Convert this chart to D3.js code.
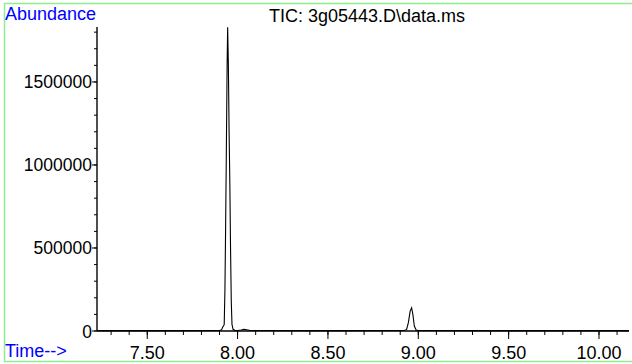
<!DOCTYPE html>
<html><head><meta charset="utf-8">
<script src="https://cdn.jsdelivr.net/npm/d3@7"></script>
<style>
html,body{margin:0;padding:0;background:#fff;}
svg{display:block;font-family:"Liberation Sans",Arial,sans-serif;}
</style></head>
<body>
<svg id="c" width="632" height="364"></svg>
<script>
// Data (time in minutes, abundance)
const times = [7.222, 7.60, 7.90, 7.912, 7.918, 7.922, 7.926, 7.930, 7.934, 7.938, 7.942, 7.945, 7.949, 7.953, 7.957, 7.961, 7.965, 7.969, 7.975, 7.985, 8.00, 8.02, 8.035, 8.05, 8.07, 8.50, 8.92, 8.935, 8.945, 8.955, 8.963, 8.970, 8.978, 8.988, 9.00, 9.50, 10.166];
const abundance = [2000, 2000, 3000, 8000, 25000, 30000, 40000, 250000, 650000, 1100000, 1600000, 1830000, 1600000, 1200000, 900000, 500000, 180000, 40000, 10000, 4000, 3000, 6000, 10000, 8000, 3000, 2000, 3000, 8000, 50000, 120000, 140000, 100000, 30000, 6000, 3000, 2000, 2000];
const xTicks = [7.50, 8.00, 8.50, 9.00, 9.50, 10.00];
const yTicks = [0, 500000, 1000000, 1500000];
const title = "TIC: 3g05443.D\\data.ms";

const svg = d3.select("#c");
const x = d3.scaleLinear().domain([7.222, 10.166]).range([97, 629]);
const y = d3.scaleLinear().domain([0, 1831000]).range([331, 27]);

// border
svg.append("rect").attr("x",4.5).attr("y",3.5).attr("width",640).attr("height",358)
  .attr("fill","none").attr("stroke","#90ee90").attr("stroke-width",1.5);

// x axis
const minorX = d3.range(73, 102).map(d=>d/10).filter(d=>d>=7.222 && d<=10.166);
const gx = svg.append("g").attr("transform","translate(0,331)");
gx.append("line").attr("x1",97).attr("x2",629).attr("stroke","#000").attr("stroke-width",1.3);
gx.selectAll(".mx").data(minorX).join("line")
  .attr("x1",d=>x(d)).attr("x2",d=>x(d)).attr("y1",0).attr("y2",4).attr("stroke","#000");
gx.selectAll(".MX").data(xTicks).join("line")
  .attr("x1",d=>x(d)).attr("x2",d=>x(d)).attr("y1",0).attr("y2",8).attr("stroke","#000");
gx.selectAll("text").data(xTicks).join("text")
  .attr("x",d=>x(d)).attr("y",28).attr("text-anchor","middle")
  .attr("font-size",18).attr("fill","#000").text(d=>d3.format(".2f")(d));

// y axis
const minorY = d3.range(0, 1900000, 100000);
const gy = svg.append("g").attr("transform","translate(97,0)");
gy.append("line").attr("y1",27).attr("y2",331).attr("stroke","#222").attr("stroke-width",1.6);
gy.selectAll(".my").data(minorY).join("line")
  .attr("y1",d=>y(d)).attr("y2",d=>y(d)).attr("x1",-3).attr("x2",0).attr("stroke","#000");
gy.selectAll(".MY").data(yTicks).join("line")
  .attr("y1",d=>y(d)).attr("y2",d=>y(d)).attr("x1",-5).attr("x2",0).attr("stroke","#000");
gy.selectAll("text").data(yTicks).join("text")
  .attr("x",-5).attr("y",d=>y(d)+6.5).attr("text-anchor","end")
  .attr("font-size",17.5).attr("fill","#000").text(d=>d);

// trace
const pts = times.map((t,i)=>[t, abundance[i]]);
svg.append("path").datum(pts)
  .attr("d", d3.line().x(d=>x(d[0])).y(d=>y(d[1])))
  .attr("fill","none").attr("stroke","#000").attr("stroke-width",1.1);

// labels
svg.append("text").attr("x",5).attr("y",20).attr("font-size",18).attr("fill","#0000ff").text("Abundance");
svg.append("text").attr("x",5).attr("y",357).attr("font-size",18).attr("fill","#0000ff").text("Time-->");
svg.append("text").attr("x",269).attr("y",22).attr("font-size",18).attr("fill","#000").text(title);
</script>
</body></html>
